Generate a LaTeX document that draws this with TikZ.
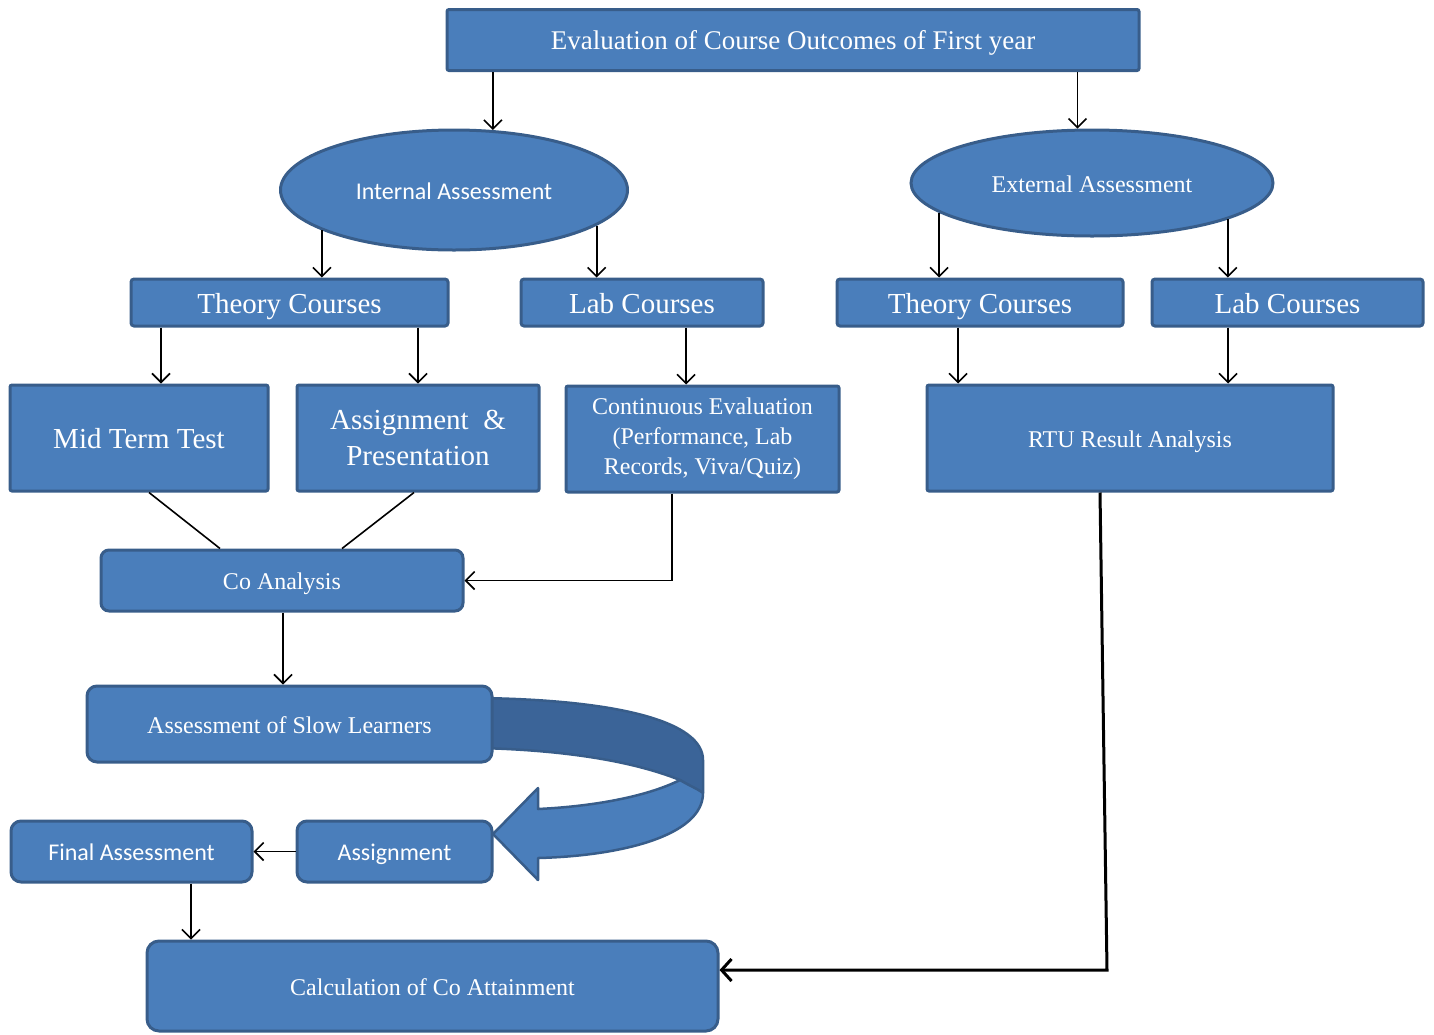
\documentclass[tikz,border=0pt]{standalone}
\usepackage{fontspec}
\setmainfont{Liberation Serif}
\newfontfamily\calibri{Carlito}
\usetikzlibrary{shapes.geometric,arrows.meta}
\definecolor{boxfill}{HTML}{4A7EBB}
\definecolor{boxline}{HTML}{385D8A}
\definecolor{bandshade}{HTML}{3B6498}

\begin{document}
\begin{tikzpicture}[x=1pt,y=-1pt,
  blk/.style={draw=boxline, fill=boxfill, line width=3pt, text=white,
    inner sep=0pt, align=center, rounded corners=#1},
  blk/.default=3pt,
  oval/.style={ellipse, draw=boxline, fill=boxfill, line width=3pt,
    text=white, inner sep=0pt},
  tsmall/.style={font=\fontsize{24}{30}\selectfont},
  tbig/.style={font=\fontsize{29}{36}\selectfont},
  ttitle/.style={font=\fontsize{27}{32}\selectfont},
  tcal/.style={font=\calibri\fontsize{24}{29}\selectfont},
  % fixed line box for single-line labels
  oneS/.style={text height=20pt, text depth=1.5pt},
  oneB/.style={text height=23.5pt, text depth=2.5pt},
  oneT/.style={text height=21.5pt, text depth=2.5pt},
  arr/.style={-{Straight Barb[length=9pt,width=18pt]}, line width=1.6pt},
  link/.style={line width=1.6pt},
  thick arr/.style={-{Straight Barb[length=10pt,width=22pt]}, line width=3pt}
]
\useasboundingbox (0,0) rectangle (1434,1034);

% ---- curved return arrow (drawn first, boxes sit on top of it) ----
\fill[bandshade, draw=boxline, line width=2.5pt, line join=round]
  (480,698) .. controls (620,700) and (703,722) .. (703,760)
  -- (703,793) .. controls (695,789) and (688,785) .. (680,780)
  .. controls (630,760) and (560,750) .. (480,748) -- cycle;
\fill[boxfill, draw=boxline, line width=2.5pt, line join=round]
  (680,780) .. controls (688,785) and (698,789) .. (703,793)
  .. controls (703,836) and (620,856) .. (538,858)
  -- (538,880) -- (493,834) -- (538,788) -- (538,809)
  .. controls (600,806) and (650,795) .. (680,780) -- cycle;

% ---- nodes ----
\node[blk=2pt, ttitle, oneT, minimum width=692, minimum height=61] (top) at (793,40)
  {Evaluation of Course Outcomes of First year};

\node[oval, tcal, oneS, minimum width=347, minimum height=120] (intl) at (454,190)
  {Internal Assessment};
\node[oval, tsmall, oneS, minimum width=362, minimum height=106] (extl) at (1092,183)
  {External Assessment};

\node[blk, tbig, oneB, minimum width=317, minimum height=47] (thL) at (289.5,302.5) {Theory Courses};
\node[blk, tbig, oneB, minimum width=242, minimum height=47] (labL) at (642,302.5) {Lab Courses};
\node[blk, tbig, oneB, minimum width=286, minimum height=47] (thR) at (980,302.5) {Theory Courses};
\node[blk, tbig, oneB, minimum width=271, minimum height=47] (labR) at (1287.5,302.5) {Lab Courses};

\node[blk=2pt, tbig, oneB, minimum width=258, minimum height=106] (mid) at (139,438) {Mid Term Test};
\node[blk=2pt, tbig, minimum width=242, minimum height=106] (asgp) at (418,438)
  {Assignment~~\&\\Presentation};
\node[blk=2pt, tsmall, minimum width=273, minimum height=106] (cont) at (702.5,439)
  {Continuous Evaluation\\(Performance, Lab\\Records, Viva/Quiz)};
\node[blk=2pt, tsmall, oneS, minimum width=406, minimum height=106] (rtu) at (1130,438)
  {RTU Result Analysis};

\node[blk=8pt, tsmall, oneS, minimum width=362, minimum height=61] (coa) at (282,580.5) {Co Analysis};
\node[blk=10pt, tsmall, oneS, minimum width=405, minimum height=76] (slow) at (289.5,724)
  {Assessment of Slow Learners};
\node[blk=10pt, tcal, oneS, minimum width=241, minimum height=61] (fin) at (131.5,851.5) {Final Assessment};
\node[blk=10pt, tcal, oneS, minimum width=195, minimum height=61] (asg) at (394.5,851.5) {Assignment};
\node[blk=12pt, tsmall, oneS, minimum width=571, minimum height=90] (calc) at (432.5,986)
  {Calculation of Co Attainment};

\coordinate (bend) at (1107,970);

% ---- connectors ----
\draw[arr] (top.south -| intl.57.7) -- (intl.57.7);
\draw[arr] (top.south -| extl.105.9) -- (extl.105.9);

\draw[arr] (intl.197.9) -- (intl.197.9 |- thL.north);
\draw[arr] (intl.346.9) -- (intl.346.9 |- labL.north);
\draw[arr] (extl.191.2) -- (extl.191.2 |- thR.north);
\draw[arr] (extl.345.6) -- (extl.345.6 |- labR.north);

\draw[arr] ([xshift=-128.5]thL.south) -- ([xshift=22]mid.north);
\draw[arr] ([xshift=128.5]thL.south) -- (asgp.north);
\draw[arr] ([xshift=44]labL.south) -- ([xshift=-16.5]cont.north);
\draw[arr] ([xshift=-22]thR.south) -- ([xshift=-172]rtu.north);
\draw[arr] ([xshift=-59.5]labR.south) -- ([xshift=98]rtu.north);

\draw[link] ([xshift=10]mid.south) -- ([xshift=-62]coa.north);
\draw[link] ([xshift=-4]asgp.south) -- ([xshift=60]coa.north);
\draw[arr] ([xshift=-30.5]cont.south) |- (coa.east);

\draw[arr] ([xshift=1]coa.south) -- ([xshift=-6.5]slow.north);
\draw[arr] (asg.west) -- (fin.east);
\draw[arr] ([xshift=59.5]fin.south) -- ([xshift=-241.5]calc.north);

\draw[thick arr] ([xshift=-30]rtu.south) -- (bend) -- ([yshift=16]calc.east);
\end{tikzpicture}
\end{document}
